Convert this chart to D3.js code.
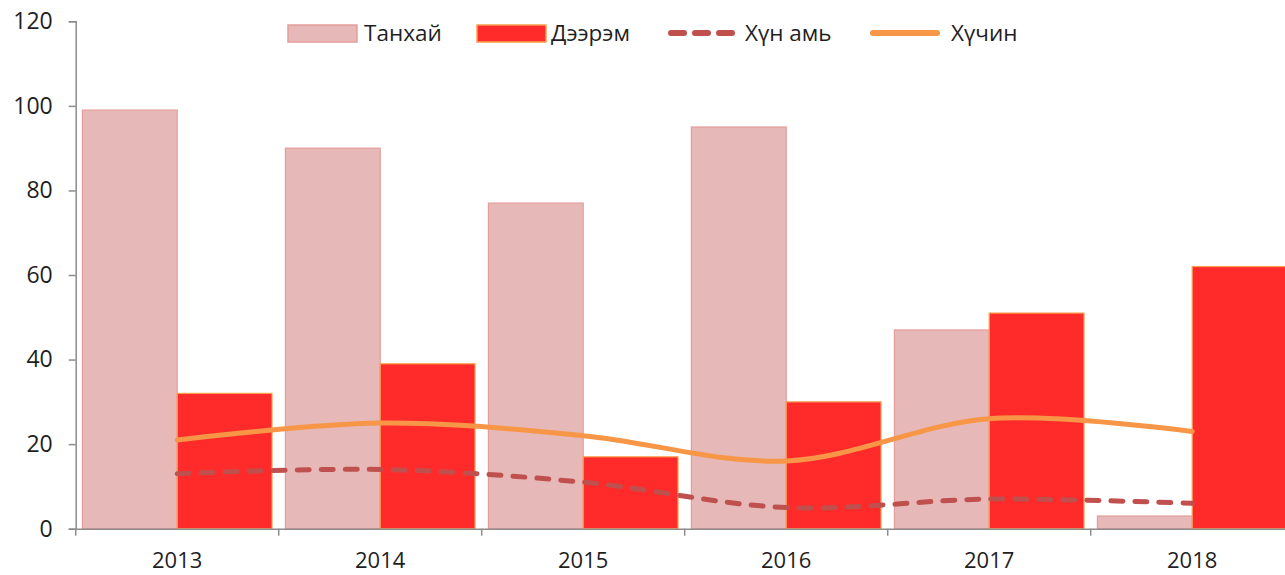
<!DOCTYPE html>
<html><head><meta charset="utf-8">
<script src="https://cdn.jsdelivr.net/npm/d3@7"></script>
<style>body{margin:0;background:#fff;} text{font-family:"Open Sans","Noto Sans",sans-serif;}</style>
</head><body>
<svg id="c" width="1285" height="575"></svg>
<script>
const categories = ["2013","2014","2015","2016","2017","2018"];
const tanhai = [99, 90, 77, 95, 47, 3];
const deerem = [32, 39, 17, 30, 51, 62];
const hunAmi = [13, 14, 11, 5, 7, 6];
const huchin = [21, 25, 22, 16, 26, 23];
const yTicks = [0, 20, 40, 60, 80, 100, 120];
const seriesNames = ["Танхай", "Дээрэм", "Хүн амь", "Хүчин"];

const svg = d3.select("#c");
const left = 75.7, bandW = 203;
const x = d3.scaleBand().domain(categories).range([left, left + bandW * 6]).paddingInner(0).paddingOuter(0);
const y = d3.scaleLinear().domain([0, 120]).range([528.7, 21.3]);
const axisColor = "#8c8c8c";
const textColor = "#1f1f1f";
const fontFam = '"Open Sans","Noto Sans",sans-serif';

// bars
const pad = x.bandwidth() * 0.033;
const bw = (x.bandwidth() - 2 * pad) / 2;
svg.append("g").selectAll("rect").data(categories).join("rect")
  .attr("x", d => x(d) + pad).attr("width", bw)
  .attr("y", (d, i) => y(tanhai[i])).attr("height", (d, i) => y(0) - y(tanhai[i]))
  .attr("fill", "#e6b8b7").attr("stroke", "#e59d9b").attr("stroke-width", 1.2);
svg.append("g").selectAll("rect").data(categories).join("rect")
  .attr("x", d => x(d) + pad + bw).attr("width", bw)
  .attr("y", (d, i) => y(deerem[i])).attr("height", (d, i) => y(0) - y(deerem[i]))
  .attr("fill", "#ff2a2a").attr("stroke", "#f9a050").attr("stroke-width", 1.2);

// axes
const yAxis = d3.axisLeft(y).tickValues(yTicks).tickSize(7).tickPadding(16);
const gy = svg.append("g").attr("transform", `translate(${left},0)`).call(yAxis);
gy.select(".domain").attr("stroke", axisColor).attr("stroke-width", 1.5);
gy.selectAll(".tick line").attr("stroke", axisColor).attr("stroke-width", 1.5);
gy.selectAll("text").attr("font-size", 23).attr("fill", textColor).style("font-family", fontFam);

const xAxis = d3.axisBottom(x).tickSize(0).tickPadding(24);
const gx = svg.append("g").attr("transform", `translate(0,${y(0)})`).call(xAxis);
gx.select(".domain").attr("stroke", axisColor).attr("stroke-width", 1.5);
gx.selectAll("text").attr("font-size", 22).attr("fill", textColor).style("font-family", fontFam);
// boundary ticks
svg.append("g").selectAll("line").data(d3.range(7)).join("line")
  .attr("x1", i => left + i * bandW).attr("x2", i => left + i * bandW)
  .attr("y1", y(0)).attr("y2", y(0) + 7)
  .attr("stroke", axisColor).attr("stroke-width", 1.5);

// lines
const cx = d => x(d) + x.bandwidth() / 2;
const line = vals => d3.line().x((d, i) => cx(d)).y((d, i) => y(vals[i])).curve(d3.curveCardinal.tension(0))(categories);
svg.append("path").attr("d", line(huchin)).attr("fill", "none")
  .attr("stroke", "#f79646").attr("stroke-width", 5).attr("stroke-linecap", "round");
svg.append("path").attr("d", line(hunAmi)).attr("fill", "none")
  .attr("stroke", "#c0504d").attr("stroke-width", 5).attr("stroke-linecap", "round")
  .attr("stroke-dasharray", "12,12");

// legend
const lg = svg.append("g");
const ly = 33;
lg.append("rect").attr("x", 288).attr("y", 25).attr("width", 69).attr("height", 17)
  .attr("fill", "#e6b8b7").attr("stroke", "#e59d9b").attr("stroke-width", 1.5);
lg.append("rect").attr("x", 477).attr("y", 25).attr("width", 69).attr("height", 17)
  .attr("fill", "#ff2a2a").attr("stroke", "#f9a050").attr("stroke-width", 1.5);
lg.append("line").attr("x1", 671).attr("x2", 733).attr("y1", ly).attr("y2", ly)
  .attr("stroke", "#c0504d").attr("stroke-width", 6).attr("stroke-linecap", "round").attr("stroke-dasharray", "13,11");
lg.append("line").attr("x1", 873).attr("x2", 937).attr("y1", ly).attr("y2", ly)
  .attr("stroke", "#f79646").attr("stroke-width", 6).attr("stroke-linecap", "round");
const lx = [364, 551, 745, 951];
lg.selectAll("text").data(seriesNames).join("text")
  .attr("x", (d, i) => lx[i]).attr("y", ly).attr("dy", "0.35em")
  .attr("font-size", 22.5).attr("fill", textColor).text(d => d);
</script>
</body></html>
